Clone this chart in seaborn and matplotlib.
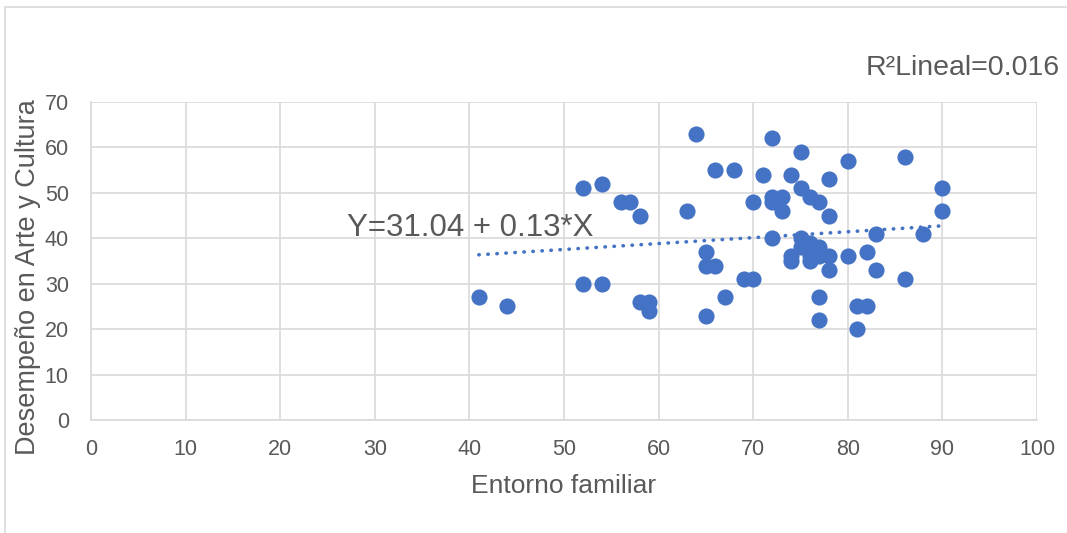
import matplotlib
matplotlib.use("Agg")
import matplotlib.pyplot as plt
import seaborn as sns
import numpy as np
import pandas as pd
from matplotlib.patches import Rectangle

# Data
entorno = [41, 44, 52, 52, 54, 54, 56, 57, 58, 58, 59, 59, 63, 64, 65, 65, 65, 66, 66, 67,
           68, 69, 70, 70, 71, 72, 72, 72, 72, 73, 73, 74, 74, 74, 75, 75, 75, 75, 76, 76,
           76, 76, 76, 76, 77, 77, 77, 77, 77, 77, 78, 78, 78, 78, 80, 80, 81, 81, 82, 82,
           83, 83, 86, 86, 88, 90, 90]
desempeno = [27, 25, 51, 30, 52, 30, 48, 48, 45, 26, 26, 24, 46, 63, 37, 34, 23, 55, 34, 27,
             55, 31, 31, 48, 54, 62, 49, 48, 40, 49, 46, 54, 36, 35, 59, 51, 40, 38, 49, 39,
             38, 37, 36, 35, 48, 38, 37, 36, 27, 22, 53, 45, 36, 33, 57, 36, 25, 20, 37, 25,
             41, 33, 58, 31, 41, 51, 46]
intercept = 31.04
slope = 0.13
r2 = 0.016
x_ticks = [0, 10, 20, 30, 40, 50, 60, 70, 80, 90, 100]
y_ticks = [0, 10, 20, 30, 40, 50, 60, 70]

df = pd.DataFrame({"Entorno familiar": entorno, "Desempeño en Arte y Cultura": desempeno})

sns.set_style("white")
plt.rcParams['font.family'] = ['Liberation Sans', 'DejaVu Sans']

blue = "#4472C4"
grey_txt = "#595959"
grid_c = "#d9d9d9"

fig = plt.figure(figsize=(10.67, 5.33), dpi=100)
ax = fig.add_axes([91/1067, 1 - 420/533, (1037-91)/1067, (420-102)/533])

# outer chart border
fig.patches.append(Rectangle((5/1067, -0.2), 1.2, 1.2 - 7/533, transform=fig.transFigure,
                             fill=False, edgecolor=grid_c, linewidth=1.2, zorder=0))

sns.scatterplot(data=df, x="Entorno familiar", y="Desempeño en Arte y Cultura", ax=ax,
                color=blue, s=135, edgecolor=blue, linewidth=0, zorder=3)

# linear trend line
xs = np.array([min(entorno), max(entorno)])
line = pd.DataFrame({"x": xs, "y": intercept + slope * xs})
sns.lineplot(data=line, x="x", y="y", ax=ax, color=blue, linewidth=2.6,
             linestyle=(0, (0.1, 2.4)), dash_capstyle="round", zorder=2)

ax.set_xlim(0, 100)
ax.set_ylim(0, 70)
ax.set_xticks(x_ticks)
ax.set_yticks(y_ticks)
ax.grid(True, color=grid_c, linewidth=1.2)
ax.set_axisbelow(True)
for s in ["top", "right"]:
    ax.spines[s].set_visible(False)
for s in ["left", "bottom"]:
    ax.spines[s].set_color(grid_c)
    ax.spines[s].set_linewidth(1.2)
ax.tick_params(axis="both", which="both", length=4, color=grid_c, width=1.2,
               labelsize=15.5, labelcolor=grey_txt)
ax.tick_params(axis="x", pad=10)
ax.tick_params(axis="y", pad=12)

ax.set_xlabel("Entorno familiar", fontsize=19, color=grey_txt)
ax.set_ylabel("Desempeño en Arte y Cultura", fontsize=19.5, color=grey_txt)
ax.xaxis.set_label_coords(0.5, -0.17)
ax.yaxis.set_label_coords(-0.053, 0.45)

fig.text(470/1067, 1 - 228/533, f"Y={intercept:.2f} + {slope:.2f}*X", fontsize=22.5,
         color=grey_txt, ha="center", va="center")
fig.text(963/1067, 1 - 68/533, f"R²Lineal={r2:.3f}", fontsize=20.5,
         color=grey_txt, ha="center", va="center")

fig.savefig("out.png", dpi=100)
